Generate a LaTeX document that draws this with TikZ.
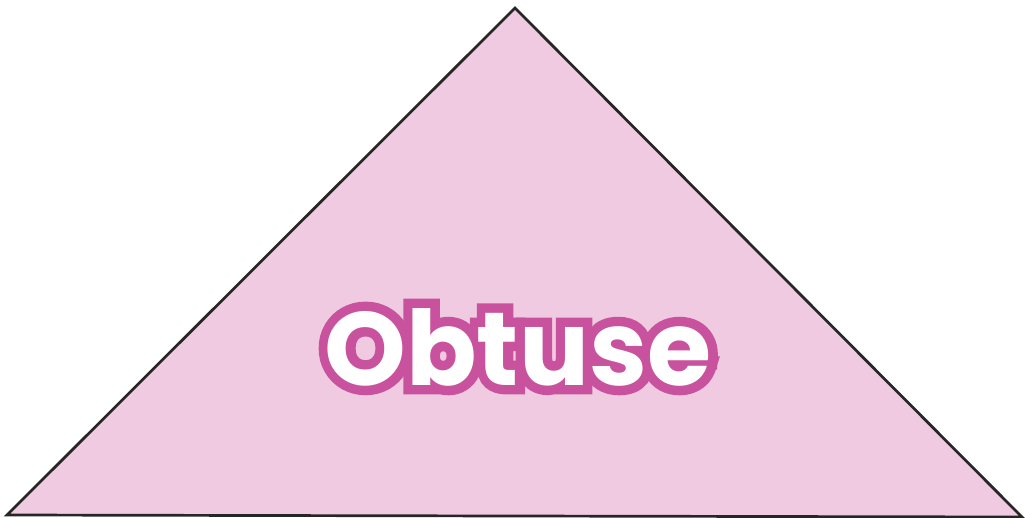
\documentclass[tikz,border=0pt]{standalone}
\usepackage{fontspec}
\setmainfont{Poppins}
\newfontfamily\outlinefont{Poppins}[UprightFont=* Bold, FakeBold=18]
\newfontfamily\plainfont{Poppins}[UprightFont=* Bold]
\definecolor{trifill}{HTML}{F0CAE0}
\definecolor{outl}{HTML}{C9529E}
\tikzset{
  lblout/.style={font=\outlinefont\fontsize{104}{110}\selectfont, inner sep=0pt, text=outl},
  lbl/.style={font=\plainfont\fontsize{104}{110}\selectfont, inner sep=0pt, text=white},
}
\begin{document}
\begin{tikzpicture}[x=1pt,y=-1pt]
\useasboundingbox (0,0) rectangle (1025,518);
\coordinate (top) at (515,8);
\coordinate (bl) at (7,515);
\coordinate (br) at (1022,517);
\draw[line width=2.7pt, fill=trifill, draw=black!85] (top) -- (bl) -- (br) -- cycle;
\node[lblout] (to) at (518,347) {Obtuse};
\node[lbl] (t) at (518,347) {Obtuse};
\end{tikzpicture}
\end{document}
